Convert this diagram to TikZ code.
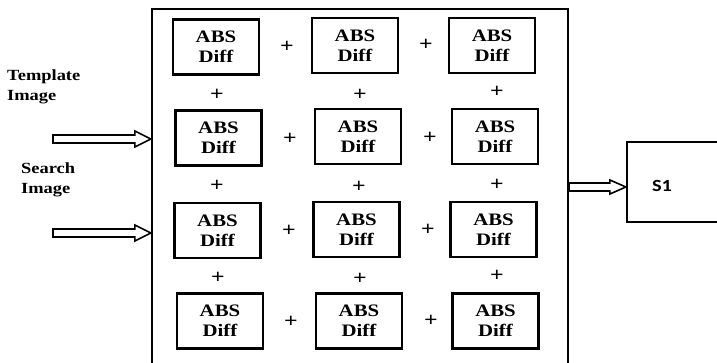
\documentclass[tikz,border=0pt]{standalone}
\usepackage{fontspec}
\setmainfont{Liberation Serif}[FakeStretch=1.19]
\newfontfamily\sonefont{Carlito}[FakeStretch=1.2]
\usetikzlibrary{calc}

% hollow block arrow from a tail point to a tip point on the same row
\newcommand\hollowarrow[3]{% #1 tail, #2 tip, #3 head half-width
  \draw[arrowline] (#1) -- ++(0,-4) -- ($(#2)+(-16,-4)$) -- ($(#2)+(-16,-#3)$)
    -- (#2) -- ($(#2)+(-16,#3)$) -- ($(#2)+(-16,4)$) -- ($(#1)+(0,4)$) -- cycle;}

\tikzset{
  absbox/.style={draw, line width=2.5pt, minimum width=86pt, minimum height=55pt,
    inner sep=0pt, align=center, font=\fontsize{17.5}{20}\selectfont\bfseries},
  plus/.style={inner sep=0pt, font=\fontsize{20}{20}\selectfont\bfseries},
  sidelabel/.style={anchor=base west, align=left, inner sep=0pt,
    font=\fontsize{15.5}{20}\selectfont\bfseries},
  arrowline/.style={draw, line width=1.6pt, line join=miter},
  frame/.style={draw, line width=2.2pt, inner sep=0pt}
}

\begin{document}
\begin{tikzpicture}[x=1pt, y=-1pt]
\useasboundingbox (0,0) rectangle (717,362);
\clip (0,0) rectangle (717,362);

% large summing frame (runs past the lower edge)
\node[frame, minimum width=416pt, minimum height=371pt] (frame) at (360,194.5) {};

% S1 output block (runs past the right edge)
\node[frame, minimum width=120pt, minimum height=80pt] (sone) at (687,182) {};
\node[inner sep=0pt, font=\sonefont\fontsize{17}{17}\selectfont\bfseries] (sonelabel) at (662,186) {S1};

% grid of absolute-difference cells
\node[absbox] (a11) at (216,47) {ABS\\Diff};
\node[absbox] (a12) at (355,45.5) {ABS\\Diff};
\node[absbox] (a13) at (492,45.5) {ABS\\Diff};
\node[absbox] (a21) at (218.5,138) {ABS\\Diff};
\node[absbox] (a22) at (358,136.5) {ABS\\Diff};
\node[absbox] (a23) at (495,136.5) {ABS\\Diff};
\node[absbox] (a31) at (217.5,230.5) {ABS\\Diff};
\node[absbox] (a32) at (356.5,229.5) {ABS\\Diff};
\node[absbox] (a33) at (493.5,229.5) {ABS\\Diff};
\node[absbox] (a41) at (220,321) {ABS\\Diff};
\node[absbox] (a42) at (359,321) {ABS\\Diff};
\node[absbox] (a43) at (495.5,321) {ABS\\Diff};

% plus signs between cells in each row
\node[plus] (p11) at (287,47) {+};
\node[plus] (p12) at (426,45) {+};
\node[plus] (p21) at (290,139) {+};
\node[plus] (p22) at (430,138) {+};
\node[plus] (p31) at (289,231) {+};
\node[plus] (p32) at (428,230) {+};
\node[plus] (p41) at (291,322) {+};
\node[plus] (p42) at (431,321) {+};

% plus signs between rows
\node[plus] (q11) at (217,95) {+};
\node[plus] (q12) at (360,95) {+};
\node[plus] (q13) at (497,92) {+};
\node[plus] (q21) at (217,186) {+};
\node[plus] (q22) at (359,187) {+};
\node[plus] (q23) at (497,185) {+};
\node[plus] (q31) at (218,278) {+};
\node[plus] (q32) at (360,279) {+};
\node[plus] (q33) at (497,276) {+};

% inputs
\node[sidelabel] (tmpl) at (7,100) {Template\\Image};
\node[sidelabel] (srch) at (21,193) {Search\\Image};

\coordinate (tin) at (53,139);
\coordinate (sin) at (53,233);
\coordinate (fout) at (frame.east |- 0,187);
\hollowarrow{tin}{frame.west |- tin}{8}
\hollowarrow{sin}{frame.west |- sin}{8}
\hollowarrow{fout}{sone.west |- fout}{7}
\end{tikzpicture}
\end{document}
